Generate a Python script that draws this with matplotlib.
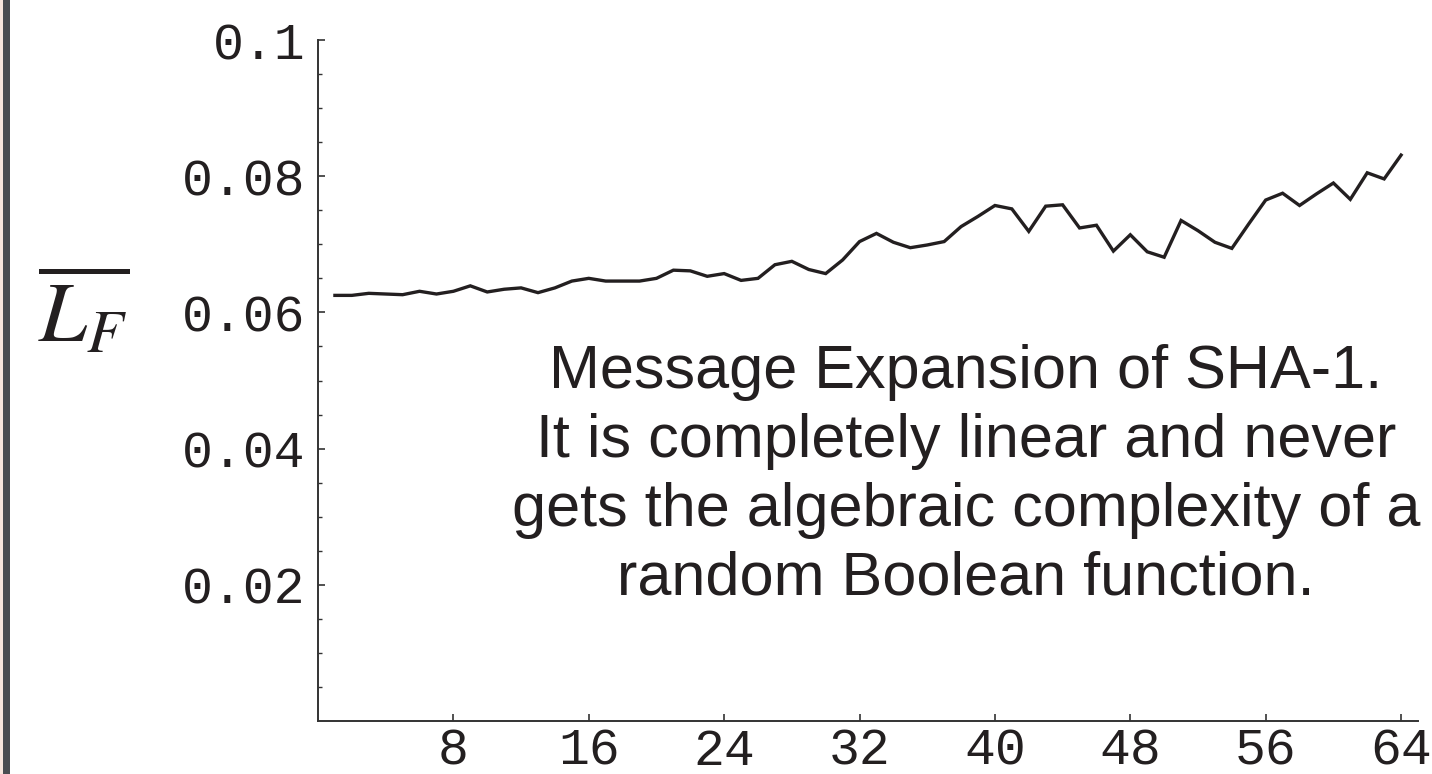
import numpy as np
import matplotlib
matplotlib.use("Agg")
import matplotlib.pyplot as plt
from matplotlib.patches import Rectangle

# values (rounds 1..64)
rounds = list(range(1, 65))
lf_mean = [0.0625, 0.0625, 0.0628, 0.0627, 0.0626, 0.0631, 0.0627, 0.0631,
           0.0639, 0.0630, 0.0634, 0.0636, 0.0629, 0.0636, 0.0646, 0.0650,
           0.0646, 0.0646, 0.0646, 0.0650, 0.0662, 0.0661, 0.0653, 0.0657,
           0.0647, 0.0650, 0.0670, 0.0675, 0.0663, 0.0657, 0.0677, 0.0704,
           0.0716, 0.0703, 0.0695, 0.0699, 0.0704, 0.0726, 0.0741, 0.0757,
           0.0752, 0.0719, 0.0756, 0.0758, 0.0724, 0.0728, 0.0690, 0.0714,
           0.0689, 0.0681, 0.0735, 0.0720, 0.0703, 0.0694, 0.0730, 0.0765,
           0.0775, 0.0757, 0.0774, 0.0790, 0.0766, 0.0805, 0.0796, 0.0831]

xticks = [8, 16, 24, 32, 40, 48, 56, 64]
yticks = [0.02, 0.04, 0.06, 0.08, 0.1]
ytick_labels = ["0.02", "0.04", "0.06", "0.08", "0.1"]

note = ("Message Expansion of SHA-1.\n"
        "It is completely linear and never\n"
        "gets the algebraic complexity of a\n"
        "random Boolean function.")

plt.rcParams['mathtext.fontset'] = 'stix'
ink = "#231f20"

fig = plt.figure(figsize=(14.32, 7.74), dpi=100)
ax = fig.add_axes([318/1432, 53/774, 1100/1432, 681/774])

ax.plot(rounds, lf_mean, color=ink, lw=2.4, solid_joinstyle='miter')

ax.set_xlim(0, 65)
ax.set_ylim(0, 0.1)
ax.set_xticks(xticks)
ax.set_xticklabels([str(t) for t in xticks])
ax.set_yticks(yticks)
ax.set_yticklabels(ytick_labels)
ax.set_yticks(np.arange(0.005, 0.1, 0.005), minor=True)

for s in ['top', 'right']:
    ax.spines[s].set_visible(False)
for s in ['left', 'bottom']:
    ax.spines[s].set_color("#333333")
    ax.spines[s].set_linewidth(1.4)

ax.tick_params(which='major', direction='in', length=5, width=1.2, color="#333333")
ax.tick_params(which='minor', direction='in', length=3, width=1.0, color="#333333")
ax.tick_params(axis='y', pad=9)
ax.tick_params(axis='x', pad=4)
for lab in ax.get_xticklabels() + ax.get_yticklabels():
    lab.set_fontfamily('Liberation Mono')
    lab.set_fontsize(37)
    lab.set_color(ink)

ax.text(0.589, 0.36, note, transform=ax.transAxes, ha='center', va='center',
        fontsize=44, family='Liberation Sans', color=ink, linespacing=1.27)

fig.text(38/1432, 0.595, r"$\overline{L_F}$", fontsize=62, ha='left', va='center',
         color=ink)

# page edge strip on the left
fig.add_artist(Rectangle((0, 0), 3/1432, 1, transform=fig.transFigure,
                         color="#f7e6de", lw=0))
fig.add_artist(Rectangle((3/1432, 0), 7/1432, 1, transform=fig.transFigure,
                         color="#4a4d52", lw=0))

fig.savefig("out.png", dpi=100)
